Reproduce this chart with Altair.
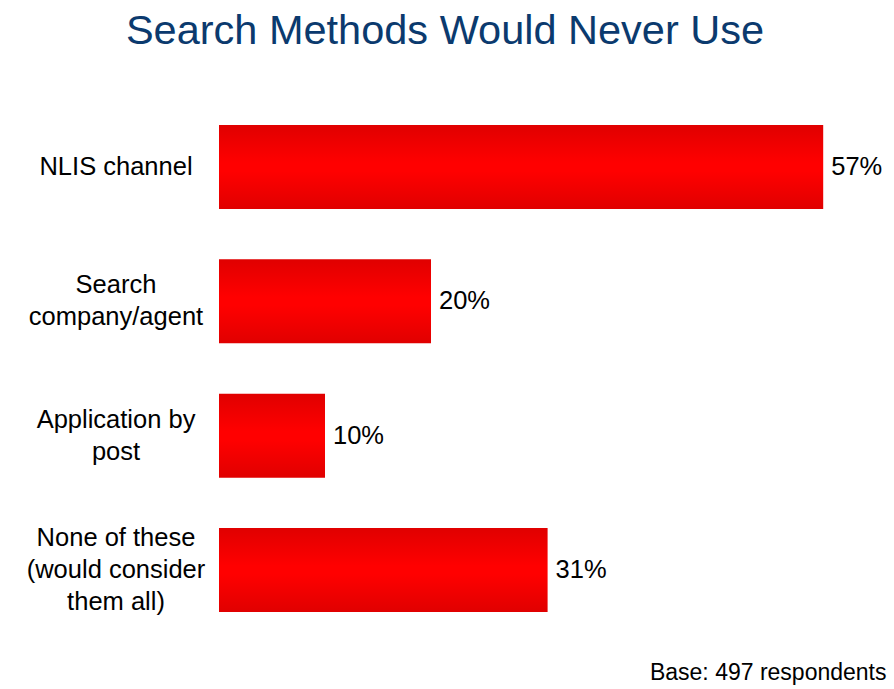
import altair as alt
import pandas as pd

categories = [
    "NLIS channel",
    "Search\ncompany/agent",
    "Application by\npost",
    "None of these\n(would consider\nthem all)",
]
values = [57, 20, 10, 31]
value_labels = ["57%", "20%", "10%", "31%"]

title_text = "Search Methods Would Never Use"
footnote = "Base: 497 respondents"

df = pd.DataFrame({"cat": categories, "val": values, "lab": value_labels})

FONT = "Liberation Sans"

y_enc = alt.Y(
    "cat:N",
    sort=categories,
    scale=alt.Scale(paddingInner=0.3746, paddingOuter=0.186),
    axis=None,
)

x_enc = alt.X(
    "val:Q",
    scale=alt.Scale(domain=[0, 60], nice=False, zero=True),
    axis=alt.Axis(
        title=footnote,
        labels=False,
        ticks=False,
        domain=False,
        grid=False,
        titleFont=FONT,
        titleFontSize=23,
        titleFontWeight="normal",
        titleColor="#000000",
        titleAlign="right",
        titleBaseline="alphabetic",
        titleX=667,
        titleY=42,
        titleAnchor="end",
    ),
)

grad = alt.Gradient(
    gradient="linear",
    stops=[
        alt.GradientStop(color="#E00000", offset=0),
        alt.GradientStop(color="#FF0000", offset=0.45),
        alt.GradientStop(color="#FF0000", offset=0.55),
        alt.GradientStop(color="#E00000", offset=1),
    ],
    x1=0, x2=0, y1=0, y2=1,
)

bars = alt.Chart(df).mark_bar(color=grad).encode(x=x_enc, y=y_enc)

labels = alt.Chart(df).mark_text(
    align="left", baseline="middle", dx=8, font=FONT, fontSize=25.5, color="#000000"
).encode(x="val:Q", y=alt.Y("cat:N", sort=categories), text="lab:N")

cat_labels = alt.Chart(df).mark_text(
    align="center",
    baseline="middle",
    lineBreak="\n",
    lineHeight=32,
    font=FONT,
    fontSize=25.5,
    color="#000000",
    dy=alt.ExprRef("-(length(split(datum.cat, '\\n')) - 1) * 16"),
).encode(x=alt.value(-103), y=alt.Y("cat:N", sort=categories), text="cat:N")

chart = (
    alt.layer(bars, labels, cat_labels)
    .properties(
        width=636,
        height=537,
        autosize=alt.AutoSizeParams(type="none"),
        padding={"left": 219, "top": 100, "right": 39, "bottom": 52},
        title=alt.TitleParams(
            text=title_text,
            anchor="middle",
            frame="group",
            dx=-92,
            offset=15,
            baseline="alphabetic",
            font=FONT,
            fontSize=41.5,
            fontWeight="normal",
            color="#0B3A6E",
        ),
        background="white",
    )
    .configure_view(stroke=None)
)

chart.save("out.html", embed_options={"renderer": "svg", "actions": False})
